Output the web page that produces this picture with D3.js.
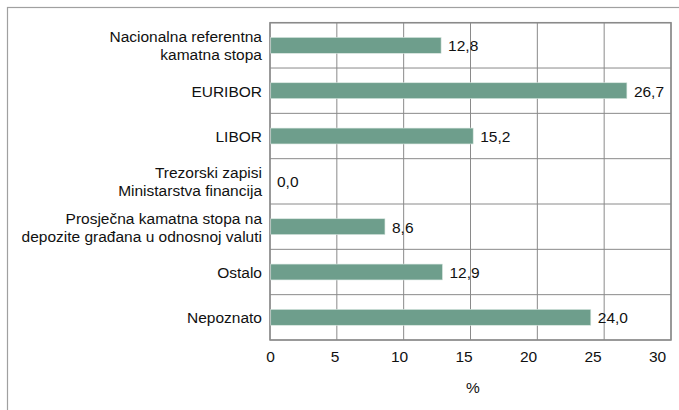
<!DOCTYPE html>
<html>
<head>
<meta charset="utf-8">
<script src="https://cdn.jsdelivr.net/npm/d3@7"></script>
<style>
  body { margin: 0; background: #fff; }
  svg { display: block; font-family: "Liberation Sans", Arial, sans-serif; }
</style>
</head>
<body>
<svg width="679" height="410"></svg>
<script>
// categories (each entry is the lines of the label)
var categories = [
  ["Nacionalna referentna", "kamatna stopa"],
  ["EURIBOR"],
  ["LIBOR"],
  ["Trezorski zapisi", "Ministarstva financija"],
  ["Prosječna kamatna stopa na", "depozite građana u odnosnoj valuti"],
  ["Ostalo"],
  ["Nepoznato"]
];
var values = [12.8, 26.7, 15.2, 0.0, 8.6, 12.9, 24.0];
var ticks = [0, 5, 10, 15, 20, 25, 30];
var axisTitle = "%";

var svg = d3.select("svg");
var plotLeft = 270, plotRight = 671, plotTop = 22.7, plotBottom = 340;
var fontSize = 15.5;

// outer frame
svg.append("rect")
  .attr("x", 7.5).attr("y", 7.5)
  .attr("width", 700).attr("height", 420)
  .attr("fill", "none")
  .attr("stroke", "#a0a0a0")
  .attr("stroke-width", 1.2);

var x = d3.scaleLinear().domain([0, 30]).range([plotLeft, plotRight]);
// the tick labels in the original drift left of the gridlines
var xLabel = d3.scaleLinear().domain([0, 30]).range([plotLeft, 657]);
var idx = d3.range(categories.length);
var y = d3.scaleBand().domain(idx).range([plotTop, plotBottom]);
var yBar = d3.scaleBand().domain(idx).range([plotTop, plotBottom]).paddingInner(0.65).paddingOuter(0.325);

var g = svg.append("g");

// vertical gridlines
g.selectAll(".vgrid").data(ticks).enter().append("line")
  .attr("x1", function(d) { return x(d); })
  .attr("x2", function(d) { return x(d); })
  .attr("y1", plotTop).attr("y2", plotBottom)
  .attr("stroke", "#8a8a8a").attr("stroke-width", 1);

// horizontal row lines
g.selectAll(".hgrid").data(d3.range(categories.length + 1)).enter().append("line")
  .attr("x1", plotLeft).attr("x2", plotRight)
  .attr("y1", function(i) { return plotTop + i * y.step(); })
  .attr("y2", function(i) { return plotTop + i * y.step(); })
  .attr("stroke", "#8a8a8a").attr("stroke-width", 1);

// plot border
g.append("rect")
  .attr("x", plotLeft).attr("y", plotTop)
  .attr("width", plotRight - plotLeft).attr("height", plotBottom - plotTop)
  .attr("fill", "none").attr("stroke", "#8a8a8a").attr("stroke-width", 1.5);

// bars
g.selectAll(".bar").data(values).enter().append("rect")
  .attr("x", x(0) + 0.75)
  .attr("y", function(d, i) { return yBar(i); })
  .attr("width", function(d) { return Math.max(0, x(d) - x(0) - 0.75); })
  .attr("height", yBar.bandwidth())
  .attr("fill", "#6e9e8c")
  .attr("stroke", "#d8e6e0")
  .attr("stroke-width", function(d) { return d > 0 ? 0.6 : 0; });

// value labels
g.selectAll(".val").data(values).enter().append("text")
  .attr("x", function(d) { return x(d) + 7; })
  .attr("y", function(d, i) { return y(i) + y.bandwidth() / 2 + 6; })
  .attr("font-size", fontSize)
  .attr("fill", "#111")
  .text(function(d) { return d.toFixed(1).replace(".", ","); });

// category labels
var lineH = 18;
var labels = g.selectAll(".cat").data(categories).enter().append("text")
  .attr("text-anchor", "end")
  .attr("font-size", fontSize)
  .attr("fill", "#111");
labels.each(function(lines, i) {
  var cy = y(i) + y.bandwidth() / 2;
  d3.select(this).selectAll("tspan").data(lines).enter().append("tspan")
    .attr("x", 262)
    .attr("y", function(t, k) { return cy + (k - (lines.length - 1) / 2) * lineH + 6; })
    .text(function(t) { return t; });
});

// x axis labels
var axis = d3.axisBottom(xLabel).tickValues(ticks).tickSize(0).tickPadding(0);
var ax = svg.append("g").attr("transform", "translate(0,350)").call(axis);
ax.select(".domain").remove();
ax.selectAll("text")
  .attr("font-size", fontSize)
  .attr("font-family", "Liberation Sans, Arial, sans-serif")
  .attr("fill", "#111")
  .attr("dy", "0.77em");

svg.append("text")
  .attr("x", 473).attr("y", 393)
  .attr("text-anchor", "middle")
  .attr("font-size", fontSize)
  .attr("fill", "#111")
  .text(axisTitle);
</script>
</body>
</html>
